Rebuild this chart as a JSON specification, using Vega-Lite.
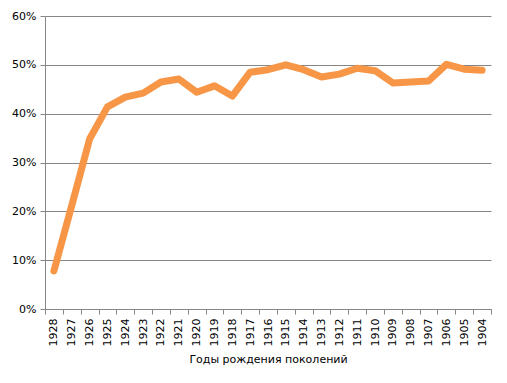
{
  "$schema": "https://vega.github.io/schema/vega-lite/v6.json",
  "width": 446,
  "height": 293,
  "autosize": {"type": "none"},
  "padding": {"left": 45, "top": 16, "right": 16, "bottom": 74},
  "background": "white",
  "config": {"view": {"stroke": null}, "font": "DejaVu Sans"},
  "data": {"values": [
    {"year": "1928", "share": 0.078},
    {"year": "1927", "share": 0.212},
    {"year": "1926", "share": 0.348},
    {"year": "1925", "share": 0.414},
    {"year": "1924", "share": 0.434},
    {"year": "1923", "share": 0.442},
    {"year": "1922", "share": 0.465},
    {"year": "1921", "share": 0.471},
    {"year": "1920", "share": 0.444},
    {"year": "1919", "share": 0.457},
    {"year": "1918", "share": 0.436},
    {"year": "1917", "share": 0.485},
    {"year": "1916", "share": 0.490},
    {"year": "1915", "share": 0.500},
    {"year": "1914", "share": 0.490},
    {"year": "1913", "share": 0.475},
    {"year": "1912", "share": 0.481},
    {"year": "1911", "share": 0.493},
    {"year": "1910", "share": 0.488},
    {"year": "1909", "share": 0.463},
    {"year": "1908", "share": 0.465},
    {"year": "1907", "share": 0.467},
    {"year": "1906", "share": 0.501},
    {"year": "1905", "share": 0.491},
    {"year": "1904", "share": 0.489}
  ]},
  "mark": {"type": "line", "color": "#F79646", "strokeWidth": 7, "strokeCap": "round", "strokeJoin": "round"},
  "encoding": {
    "x": {
      "field": "year", "type": "ordinal", "sort": null,
      "scale": {"paddingInner": 0, "paddingOuter": 0},
      "axis": {
        "title": "Годы рождения поколений",
        "titleFont": "DejaVu Sans", "titleFontSize": 11, "titleFontWeight": "normal", "titleColor": "#000", "titlePadding": 8,
        "labelAngle": -90, "labelFontSize": 11, "labelColor": "#000", "labelPadding": 4,
        "tickBand": "extent", "tickColor": "#868686", "tickSize": 5,
        "domainColor": "#868686", "grid": false
      }
    },
    "y": {
      "field": "share", "type": "quantitative",
      "scale": {"domain": [0, 0.6]},
      "axis": {
        "title": null, "format": ".0%", "values": [0, 0.1, 0.2, 0.3, 0.4, 0.5, 0.6],
        "labelFontSize": 11, "labelColor": "#000", "labelPadding": 4,
        "tickColor": "#868686", "tickSize": 5,
        "domainColor": "#868686", "grid": true, "gridColor": "#868686", "gridOpacity": 1
      }
    }
  }
}
